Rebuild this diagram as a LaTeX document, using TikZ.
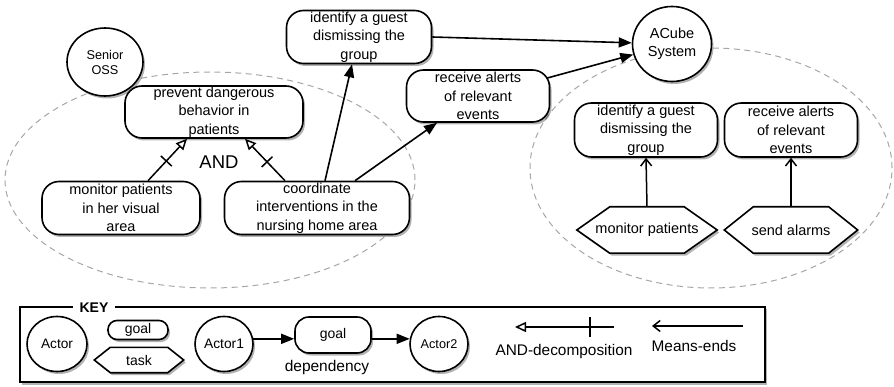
\documentclass[tikz,border=0pt]{standalone}
\usepackage{fontspec}
\setmainfont{Liberation Sans}
\usetikzlibrary{arrows.meta,shapes.geometric,shadows,decorations.markings,calc}

\pgfdeclarelayer{back}
\pgfdeclarelayer{background}
\pgfsetlayers{back,background,main}

% hexagonal task outline around a named node, #2 = depth of the side points
\newcommand\taskhex[2]{%
  \path[taskline] (#1.west) -- ([xshift=#2]#1.north west) -- ([xshift=-#2]#1.north east)
    -- (#1.east) -- ([xshift=-#2]#1.south east) -- ([xshift=#2]#1.south west) -- cycle;}

\tikzset{
  softshadow/.style={drop shadow={shadow xshift=2pt, shadow yshift=-2.5pt,
      opacity=0.3, fill=black}},
  goalbox/.style={draw, line width=1.6pt, fill=white, rounded corners=17pt,
      inner sep=0pt, align=center, font=\fontsize{14.5}{18.5}\selectfont, softshadow},
  actor/.style={draw, ellipse, line width=1.6pt, fill=white, inner sep=0pt,
      align=center, softshadow},
  taskbox/.style={inner sep=0pt, minimum height=46pt, align=center,
      font=\fontsize{14.5}{17}\selectfont},
  taskline/.style={draw, line width=1.6pt, fill=white, line join=miter, softshadow},
  boundary/.style={draw=gray!70, dash pattern=on 6pt off 4.5pt, line width=1pt},
  dep/.style={line width=1.6pt, -{Triangle[length=13pt,width=10pt]}},
  meansend/.style={line width=1.5pt, -{Straight Barb[length=7pt,width=11pt,line width=1.5pt]}},
  anddec/.style 2 args={line width=1.5pt, -{Triangle[open,length=11pt,width=10pt,fill=white]},
      postaction={decorate, decoration={markings,
        mark=at position #1 with {\draw[line width=1.5pt, -] (0,-#2) -- (0,#2);}}}},
  keyframe/.style={draw, line width=1.5pt, fill=white, inner sep=0pt, softshadow},
}

\begin{document}
\begin{tikzpicture}[x=1pt,y=-1pt]
\useasboundingbox (0,0) rectangle (894,387);

% actor boundaries
\begin{pgfonlayer}{back}
  \draw[boundary] (210,180) ellipse [x radius=205pt, y radius=108pt];
  \draw[boundary] (711,168) ellipse [x radius=181pt, y radius=120pt];
\end{pgfonlayer}

% actors
\node[actor, minimum width=76pt, minimum height=68pt,
      font=\fontsize{12.7}{15}\selectfont] (oss) at (105,62) {Senior\\OSS};
\node[actor, minimum width=79pt, minimum height=75pt,
      font=\fontsize{14.5}{18}\selectfont] (acube) at (672,44) {ACube\\System};

% Senior OSS goals
\node[goalbox, minimum width=178pt, minimum height=52pt] (prev) at (214,112)
  {prevent dangerous\\behavior in\\patients};
\node[goalbox, minimum width=158pt, minimum height=53pt] (mon) at (121,208)
  {monitor patients\\in her visual\\area};
\node[goalbox, minimum width=185pt, minimum height=53pt] (coord) at (317,208)
  {coordinate\\interventions in the\\nursing home area};

% dependums
\node[goalbox, minimum width=145pt, minimum height=53pt] (identT) at (359,37)
  {identify a guest\\dismissing the\\group};
\node[goalbox, minimum width=143pt, minimum height=52pt] (recvT) at (478,96)
  {receive alerts\\of relevant\\events};

% ACube System goals and tasks
\node[goalbox, minimum width=143pt, minimum height=54pt] (identS) at (646,130)
  {identify a guest\\dismissing the\\group};
\node[goalbox, minimum width=133pt, minimum height=54pt] (recvS) at (791,130)
  {receive alerts\\of relevant\\events};
\node[taskbox, minimum width=140pt] (monP) at (647,230) {monitor patients};
\node[taskbox, minimum width=133pt] (sendA) at (791,230) {send alarms};
\begin{pgfonlayer}{background}
  \taskhex{monP}{33pt}
  \taskhex{sendA}{29pt}
\end{pgfonlayer}

% AND decomposition
\draw[anddec={0.47}{7.5pt}] ([xshift=27pt]mon.north) -- ([xshift=-27pt]prev.south);
\draw[anddec={0.45}{7.5pt}] ([xshift=-32pt]coord.north) -- ([xshift=31pt]prev.south);
\node[font=\fontsize{18.5}{20}\selectfont] (andlbl) at (219,162) {AND};

% dependencies
\draw[dep] ([xshift=8pt]coord.north) -- ([xshift=-7pt]identT.south);
\draw[dep] ([xshift=38pt]coord.north) -- ([xshift=-41pt]recvT.south);
\draw[dep] (identT.east) -- (acube);
\draw[dep] ($(recvT.east)+(-3,-18)$) -- (acube);

% means-ends
\draw[meansend] (monP.north) -- (identS.south);
\draw[meansend] (sendA.north) -- (recvS.south);

% key
\begin{pgfonlayer}{back}
  \node[keyframe, minimum width=745pt, minimum height=75pt] (keybox) at (392.5,344.5) {};
\end{pgfonlayer}
\node[font=\bfseries\fontsize{14}{16}\selectfont, fill=white, inner xsep=7pt, inner ysep=1pt]
  (keylbl) at (94,308) {KEY};
\node[actor, minimum width=60pt, minimum height=55pt,
      font=\fontsize{13.7}{16}\selectfont] (kactor) at (57,344) {Actor};
\node[goalbox, rounded corners=9pt, minimum width=60pt, minimum height=19pt,
      font=\fontsize{14}{16}\selectfont] (kgoal) at (138,330) {goal};
\node[taskbox, minimum width=89pt, minimum height=25pt,
      font=\fontsize{14}{16}\selectfont] (ktask) at (139,360) {task};
\begin{pgfonlayer}{background}
  \taskhex{ktask}{16pt}
\end{pgfonlayer}
\node[actor, minimum width=58pt, minimum height=55pt,
      font=\fontsize{13.8}{16}\selectfont] (kact1) at (224,344) {Actor1};
\node[goalbox, rounded corners=14pt, minimum width=76pt, minimum height=36pt,
      font=\fontsize{14}{16}\selectfont] (kgoal2) at (333,335) {goal};
\node[actor, minimum width=58pt, minimum height=55pt,
      font=\fontsize{12.7}{15}\selectfont] (kact2) at (439,344) {Actor2};
\draw[dep] (kact1.10) -- (kgoal2.west |- kact1.10);
\draw[dep] (kgoal2.east |- kact2.170) -- (kact2.170);
\node[font=\fontsize{15.5}{17}\selectfont] (kdep) at (327,367) {dependency};

\coordinate (kandA) at (614,327);
\coordinate (kandB) at (515,327);
\draw[anddec={0.24}{10pt}] (kandA) -- (kandB);
\node[font=\fontsize{15.4}{17}\selectfont] (kandl) at (564,352) {AND-decomposition};

\coordinate (kmeA) at (743,326);
\coordinate (kmeB) at (652,326);
\draw[meansend] (kmeA) -- (kmeB);
\node[font=\fontsize{15.4}{17}\selectfont] (kmel) at (694,346) {Means-ends};
\end{tikzpicture}
\end{document}
